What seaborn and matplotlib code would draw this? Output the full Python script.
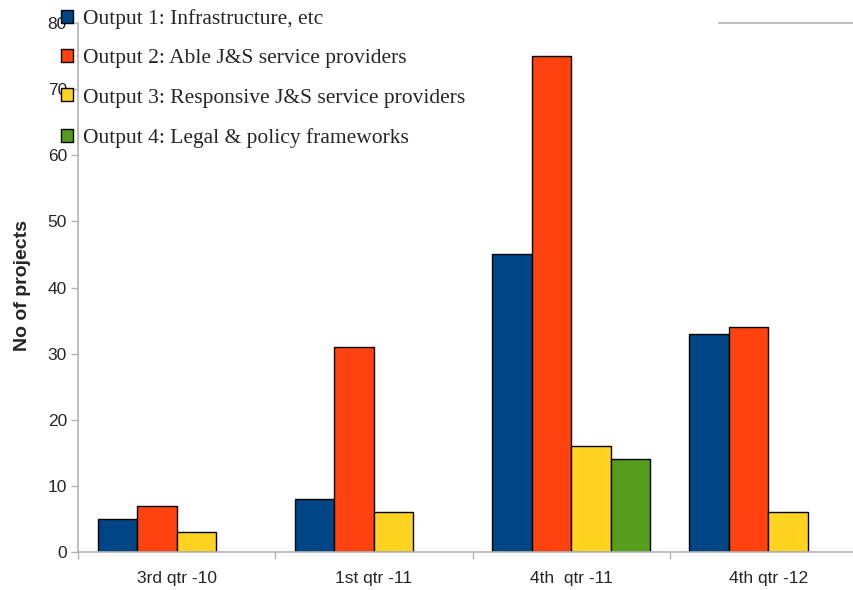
import numpy as np
import pandas as pd
import matplotlib
matplotlib.use("Agg")
import matplotlib.pyplot as plt
import seaborn as sns

categories = ["3rd qtr -10", "1st qtr -11", "4th  qtr -11", "4th qtr -12"]
series_names = ["Output 1: Infrastructure, etc",
                "Output 2: Able J&S service providers",
                "Output 3: Responsive J&S service providers",
                "Output 4: Legal & policy frameworks"]
output1 = [5, 8, 45, 33]
output2 = [7, 31, 75, 34]
output3 = [3, 6, 16, 6]
output4 = [np.nan, np.nan, 14, np.nan]
colors = ["#004586", "#ff420e", "#ffd320", "#579d1c"]
y_ticks = [0, 10, 20, 30, 40, 50, 60, 70, 80]

rows = []
for name, vals in zip(series_names, [output1, output2, output3, output4]):
    for c, v in zip(categories, vals):
        rows.append({"quarter": c, "series": name, "value": v})
df = pd.DataFrame(rows)

sns.set_theme(style="white")
plt.rcParams["font.family"] = ["Liberation Sans", "DejaVu Sans"]

fig = plt.figure(figsize=(8.54, 5.90), dpi=100)
ax = fig.add_axes([78/854, 38/590, (867-78)/854, (552-23)/590])

sns.barplot(data=df, x="quarter", y="value", hue="series", order=categories,
            hue_order=series_names, palette=colors, saturation=1,
            errorbar=None, edgecolor="black", linewidth=1, ax=ax, width=0.8)

ax.set_ylim(0, 80)
ax.set_xlim(-0.5, 3.5)
ax.set_yticks(y_ticks)
ax.set_ylabel("No of projects", fontsize=14, fontweight="bold")
ax.yaxis.set_label_coords(-47/789, 0.503)
ax.set_xlabel("")

gray = "#b3b3b3"
for s in ["left", "bottom", "top"]:
    ax.spines[s].set_color(gray)
    ax.spines[s].set_linewidth(1.2)
ax.spines["right"].set_visible(False)
ax.spines["top"].set_bounds(2.749, 3.5)

ax.tick_params(axis="y", which="major", length=5, color=gray, width=1,
               labelsize=12.5, pad=3, left=True)
ax.tick_params(axis="x", which="major", length=0, labelsize=12.5, pad=14, bottom=True)
ax.set_xticks([-0.5, 0.5, 1.5, 2.5], minor=True)
ax.tick_params(axis="x", which="minor", length=5, color=gray, width=1, bottom=True)

handles, labels = ax.get_legend_handles_labels()
if ax.get_legend() is not None:
    ax.get_legend().remove()
leg = ax.legend(handles, labels, loc="upper left",
                bbox_to_anchor=(61/854, 1 - 9/590), bbox_transform=fig.transFigure,
                frameon=False, prop={"family": "Liberation Serif", "size": 15.5},
                handlelength=0.55, handleheight=0.55, handletextpad=0.45,
                labelspacing=0.94, borderpad=0, borderaxespad=0)

fig.savefig("out.png", dpi=100)
